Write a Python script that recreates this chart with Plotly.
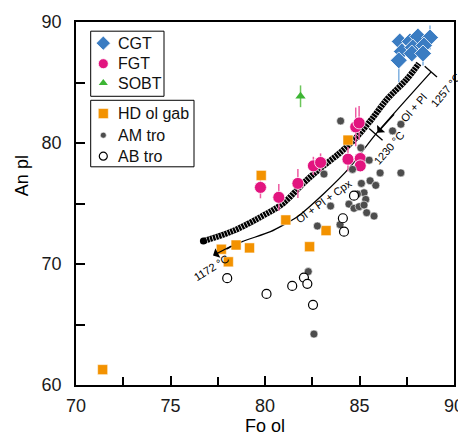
import plotly.graph_objects as go

# ---------------- data ----------------
cgt_fo = [87.13, 87.67, 88.09, 88.73, 87.24, 87.82, 88.41, 87.08, 87.77, 88.36]
cgt_an = [88.39, 88.39, 88.80, 88.72, 87.57, 87.90, 88.06, 86.83, 87.40, 87.40]
cgt_err = [0.4, 0.4, 0.6, 1.0, 0.4, 0.4, 0.4, 1.8, 0.4, 1.0]

fgt_fo = [79.76, 80.73, 81.74, 82.56, 82.94, 84.39, 85.04, 85.04, 84.80, 84.98]
fgt_an = [76.33, 75.51, 76.66, 78.11, 78.39, 78.66, 78.72, 78.11, 81.33, 81.66]
fgt_err_y = [0.9, 1.1, 1.2, 0.75, 0.75, 1.0, 0.7, 0.5, 1.6, 1.4]
fgt_err_x = [0.32, 0, 0, 0, 0, 0, 0, 0, 0, 0]

sobt_fo = [81.88]
sobt_an = [83.86]
sobt_err = [0.9]

hd_fo = [71.41, 77.69, 78.06, 78.47, 79.18, 79.80, 81.10, 82.36, 83.23, 84.39]
hd_an = [61.27, 71.22, 70.18, 71.57, 71.33, 77.32, 73.64, 71.43, 72.76, 80.24]

am_fo = [84.00, 87.19, 86.75, 85.07, 85.51, 83.12, 86.09, 87.19, 84.63, 85.10,
         85.56, 85.86, 85.24, 84.89, 85.33, 83.47, 84.44, 84.71, 84.98, 85.24,
         85.38, 85.77, 82.77, 83.97, 82.29, 82.59]
am_an = [81.82, 81.55, 81.00, 79.60, 78.58, 77.43, 77.53, 77.53, 77.82, 76.66,
         76.88, 76.50, 75.89, 75.78, 75.34, 74.79, 74.95, 74.60, 74.74, 74.87,
         74.24, 73.96, 73.14, 73.25, 69.37, 64.21]

ab_fo = [84.71, 84.12, 84.18, 82.06, 82.24, 81.44, 80.08, 82.54, 78.00]
ab_an = [75.65, 73.78, 72.67, 68.88, 68.36, 68.19, 67.53, 66.63, 68.83]

# modelled crystallisation trend (beaded curve)
chain_fo = [76.74, 78.17, 79.76, 80.98, 82.04, 82.94, 84.00, 84.80, 85.60, 86.50, 87.45, 88.14]
chain_an = [71.90, 72.64, 73.88, 75.04, 76.69, 77.92, 79.24, 80.40, 81.88, 83.69, 85.18, 86.58]

# cooling path 1257 -> 1230 -> 1172 °C
path_fo = [88.78, 85.86, 84.44, 83.12, 81.71, 80.29, 78.79, 77.50]
path_an = [85.86, 80.73, 77.90, 75.83, 73.91, 72.67, 71.85, 70.88]
t1257_fo = [88.45, 89.10]
t1257_an = [86.35, 85.45]
t1230_fo = [85.51, 86.22]
t1230_an = [81.20, 80.23]

x_ticks = [70, 75, 80, 85, 90]
y_ticks = [60, 70, 80, 90]

FONT = "Liberation Sans, Arial, Helvetica, sans-serif"

# series styles (used for plot marks and for the legend keys)
styles = {
    "CGT": dict(symbol="diamond", size=13, color="#3a7cc2", line=dict(color="white", width=0.8)),
    "FGT": dict(symbol="circle", size=12, color="#e2147f", line=dict(color="white", width=0.8)),
    "SOBT": dict(symbol="triangle-up", size=9, color="#3db534", line=dict(width=0)),
    "HD ol gab": dict(symbol="square", size=10, color="#f39200", line=dict(color="white", width=0.5)),
    "AM tro": dict(symbol="circle", size=8, color="#4d4d4d", line=dict(color="white", width=0.6)),
    "AB tro": dict(symbol="circle", size=9, color="white", line=dict(color="black", width=1.2)),
}
legend_keys = {
    "CGT": dict(size=11), "FGT": dict(size=10), "SOBT": dict(size=8),
    "HD ol gab": dict(size=10), "AM tro": dict(size=6), "AB tro": dict(size=8),
}

fig = go.Figure()

# beaded curve
fig.add_trace(go.Scatter(x=chain_fo, y=chain_an, mode="lines", line=dict(color="black", width=6, shape="spline"),
                         showlegend=False, hoverinfo="skip"))
fig.add_trace(go.Scatter(x=chain_fo, y=chain_an, mode="lines",
                         line=dict(color="white", width=6, shape="spline", dash="0.7px,2.4px"),
                         showlegend=False, hoverinfo="skip"))
fig.add_trace(go.Scatter(x=chain_fo[:1], y=chain_an[:1], mode="markers",
                         marker=dict(color="black", size=7), showlegend=False, hoverinfo="skip"))

# path lines
for xs, ys, sh in [(path_fo, path_an, "spline"), (t1257_fo, t1257_an, "linear"), (t1230_fo, t1230_an, "linear")]:
    fig.add_trace(go.Scatter(x=xs, y=ys, mode="lines", line=dict(color="black", width=1.3, shape=sh, smoothing=0.6),
                             showlegend=False, hoverinfo="skip"))

# data series
fig.add_trace(go.Scatter(x=cgt_fo, y=cgt_an, mode="markers", name="CGT", showlegend=False, marker=styles["CGT"],
                         error_y=dict(type="data", array=cgt_err, color="#7fb0e0", thickness=1.5, width=0)))
fig.add_trace(go.Scatter(x=fgt_fo, y=fgt_an, mode="markers", name="FGT", showlegend=False, marker=styles["FGT"],
                         error_y=dict(type="data", array=fgt_err_y, color="#ee5aa2", thickness=1.5, width=0),
                         error_x=dict(type="data", array=fgt_err_x, color="#ee5aa2", thickness=1.5, width=0)))
fig.add_trace(go.Scatter(x=sobt_fo, y=sobt_an, mode="markers", name="SOBT", showlegend=False, marker=styles["SOBT"],
                         error_y=dict(type="data", array=sobt_err, color="#6cc65a", thickness=1.5, width=0)))
fig.add_trace(go.Scatter(x=hd_fo, y=hd_an, mode="markers", name="HD ol gab", showlegend=False, marker=styles["HD ol gab"]))
fig.add_trace(go.Scatter(x=am_fo, y=am_an, mode="markers", name="AM tro", showlegend=False, marker=styles["AM tro"]))
fig.add_trace(go.Scatter(x=ab_fo, y=ab_an, mode="markers", name="AB tro", showlegend=False, marker=styles["AB tro"]))

anns = [
    dict(x=89.58, y=84.35, text="1257 °C", textangle=-50),
    dict(x=87.85, y=82.91, text="Ol + Pl", textangle=-49),
    dict(x=86.55, y=79.60, text="1230 °C", textangle=-49),
    dict(x=83.12, y=75.19, text="Ol + Pl + Cpx", textangle=-36),
    dict(x=77.15, y=69.65, text="1172 °C", textangle=-32),
]
for a in anns:
    fig.add_annotation(x=a["x"], y=a["y"], text=a["text"], textangle=a["textangle"], showarrow=False,
                       font=dict(family=FONT, size=11, color="black"), xanchor="center", yanchor="middle")

# arrows
fig.add_annotation(x=85.95, y=80.85, ax=86.9, ay=82.5, xref="x", yref="y", axref="x", ayref="y",
                   text="", showarrow=True, arrowhead=1, arrowsize=1.4, arrowwidth=1.3, arrowcolor="black")
fig.add_annotation(x=77.25, y=70.70, ax=78.3, ay=71.55, xref="x", yref="y", axref="x", ayref="y",
                   text="", showarrow=True, arrowhead=1, arrowsize=1.4, arrowwidth=1.3, arrowcolor="black")

# ---------- two boxed legends (pixel layout of the reference) ----------
L, T, W, H = 76.0, 21.5, 378.0, 364.0
def fx(px):
    return (px - L) / W
def fy(py):
    return (T + H - py) / H

legend_boxes = [(90.7, 30.7, 164.0, 96.0), (90.7, 100.0, 194.0, 166.7)]
legend_rows = [("CGT", 42.7), ("FGT", 63.3), ("SOBT", 82.7), ("HD ol gab", 113.3), ("AM tro", 135.0), ("AB tro", 156.0)]
key_px, text_px = 103.3, 115.5

for x0, y0, x1, y1 in legend_boxes:
    fig.add_shape(type="rect", xref="paper", yref="paper", x0=fx(x0), x1=fx(x1), y0=fy(y1), y1=fy(y0),
                  line=dict(color="black", width=1), fillcolor="white", layer="below")
for name, py in legend_rows:
    st = dict(styles[name]); st.update(legend_keys[name])
    fig.add_trace(go.Scatter(x=[fx(key_px)], y=[fy(py)], xaxis="x2", yaxis="y2", mode="markers",
                             marker=st, showlegend=False, hoverinfo="skip", cliponaxis=False))
    fig.add_annotation(x=fx(text_px), y=fy(py), xref="paper", yref="paper", text=name, showarrow=False,
                       xanchor="left", yanchor="middle", font=dict(family=FONT, size=16, color="#111"))

# axis titles
fig.add_annotation(x=-0.143, y=0.578, xref="paper", yref="paper", text="An pl", textangle=-90, showarrow=False,
                   font=dict(family=FONT, size=18, color="black"), xanchor="center", yanchor="middle")
fig.add_annotation(x=0.5, y=-0.114, xref="paper", yref="paper", text="Fo ol", showarrow=False,
                   font=dict(family=FONT, size=18, color="black"), xanchor="center", yanchor="middle")

axis_common = dict(showgrid=False, zeroline=False, showline=True, linecolor="black", linewidth=1.6, mirror=True,
                   ticks="inside", ticklen=9, tickwidth=1.5, tickcolor="black", automargin=False,
                   tickfont=dict(family=FONT, size=18, color="#1a1a1a"))
fig.update_xaxes(range=[70, 90], tickvals=x_ticks, ticklabelstandoff=4,
                 minor=dict(dtick=2.5, ticks="inside", ticklen=8, tickwidth=1.5, tickcolor="black"), **axis_common)
fig.update_yaxes(range=[60, 90], tickvals=y_ticks, ticklabelstandoff=9,
                 minor=dict(dtick=5, ticks="inside", ticklen=9, tickwidth=1.5, tickcolor="black"), **axis_common)

# the page body adds an 8 px margin, so the figure is made 8 px smaller and shifted accordingly
fig.update_layout(
    width=458, height=428,
    margin=dict(l=68, r=12, t=13.5, b=50.5),
    paper_bgcolor="white", plot_bgcolor="white",
    showlegend=False,
    xaxis2=dict(overlaying="x", range=[0, 1], visible=False, fixedrange=True),
    yaxis2=dict(overlaying="y", range=[0, 1], visible=False, fixedrange=True),
)

fig.write_html("out.html")
